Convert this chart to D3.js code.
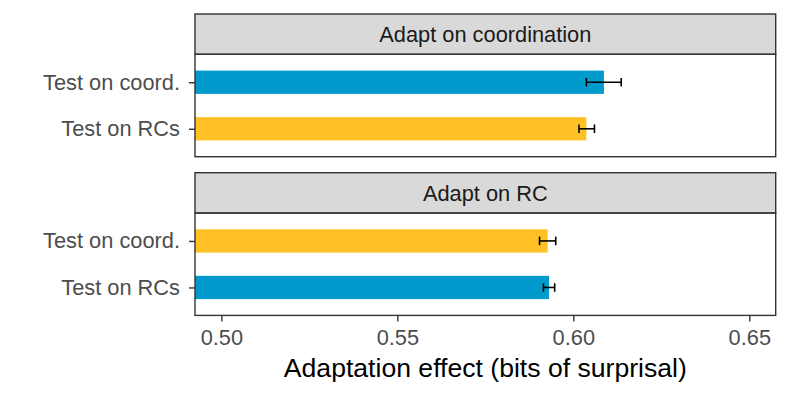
<!DOCTYPE html>
<html>
<head>
<meta charset="utf-8">
<script src="https://cdn.jsdelivr.net/npm/d3@7"></script>
<style>
  body { margin: 0; background: #fff; }
  svg { display: block; font-family: "Liberation Sans", Arial, sans-serif; }
</style>
</head>
<body>
<div id="chart"></div>
<script>
// Data (one row per bar)
const adaptOn = ["Adapt on coordination", "Adapt on coordination", "Adapt on RC", "Adapt on RC"];
const testOn = ["Test on coord.", "Test on RCs", "Test on coord.", "Test on RCs"];
const effect = [0.6087, 0.6037, 0.5927, 0.5931];
const ciLow = [0.6037, 0.6016, 0.5904, 0.5915];
const ciHigh = [0.6136, 0.6060, 0.5950, 0.5947];
const sameStructure = [true, false, false, true];

const facets = ["Adapt on coordination", "Adapt on RC"];
const testLevels = ["Test on coord.", "Test on RCs"];
const xTicks = [0.50, 0.55, 0.60, 0.65];
const xLimits = [0.50, 0.65];
const xTitle = "Adaptation effect (bits of surprisal)";

// Layout (pixels)
const width = 789, height = 395;
const panelLeft = 195, panelRight = 775.7;
const stripTops = [14, 172.7];      // top of each facet strip
const stripHeight = 40.3;
const panelHeight = 102.4;
const tickLen = 6;
const textSize = 21.8;

const BLUE = "#009ACD";     // deepskyblue3
const YELLOW = "#FFC125";   // goldenrod1
const BORDER = "#333333";

const rows = effect.map((v, i) => ({
    facet: adaptOn[i], test: testOn[i], value: v,
    lo: ciLow[i], hi: ciHigh[i], same: sameStructure[i]
}));

// ggplot-style 5% expansion on the x limits
const span = xLimits[1] - xLimits[0];
const x = d3.scaleLinear()
    .domain([xLimits[0] - span * 0.05, xLimits[1] + span * 0.05])
    .range([panelLeft, panelRight]);

const svg = d3.select("#chart").append("svg")
    .attr("width", width)
    .attr("height", height);

facets.forEach((facet, fi) => {
    const stripTop = stripTops[fi];
    const top = stripTop + stripHeight;
    const bottom = top + panelHeight;
    const g = svg.append("g").attr("class", "facet");

    // Strip
    g.append("rect")
        .attr("x", panelLeft)
        .attr("y", stripTop)
        .attr("width", panelRight - panelLeft)
        .attr("height", stripHeight)
        .attr("fill", "#D9D9D9")
        .attr("stroke", BORDER)
        .attr("stroke-width", 1.4);
    g.append("text")
        .attr("x", (panelLeft + panelRight) / 2)
        .attr("y", stripTop + stripHeight / 2)
        .attr("dy", "0.36em")
        .attr("text-anchor", "middle")
        .attr("font-size", textSize)
        .attr("fill", "#1A1A1A")
        .text(facet);

    // Discrete y scale with 0.6 expansion each side
    const y = d3.scalePoint()
        .domain(testLevels)
        .range([top, bottom])
        .padding(0.6);
    const barH = y.step() * 0.5;

    const data = rows.filter(d => d.facet === facet);

    g.selectAll(".bar")
        .data(data)
        .enter()
        .append("rect")
        .attr("class", "bar")
        .attr("x", panelLeft)
        .attr("y", d => y(d.test) - barH / 2)
        .attr("width", d => x(d.value) - panelLeft)
        .attr("height", barH)
        .attr("fill", d => d.same ? BLUE : YELLOW);

    // Error bars
    const capH = 4.3;
    const eb = g.selectAll(".errbar")
        .data(data)
        .enter()
        .append("g")
        .attr("class", "errbar")
        .attr("stroke", "#000")
        .attr("stroke-width", 1.6);
    eb.append("line")
        .attr("x1", d => x(d.lo)).attr("x2", d => x(d.hi))
        .attr("y1", d => y(d.test)).attr("y2", d => y(d.test));
    eb.append("line")
        .attr("x1", d => x(d.lo)).attr("x2", d => x(d.lo))
        .attr("y1", d => y(d.test) - capH).attr("y2", d => y(d.test) + capH);
    eb.append("line")
        .attr("x1", d => x(d.hi)).attr("x2", d => x(d.hi))
        .attr("y1", d => y(d.test) - capH).attr("y2", d => y(d.test) + capH);

    // Panel border
    g.append("rect")
        .attr("x", panelLeft)
        .attr("y", top)
        .attr("width", panelRight - panelLeft)
        .attr("height", panelHeight)
        .attr("fill", "none")
        .attr("stroke", BORDER)
        .attr("stroke-width", 1.4);

    // Y axis
    const yAxis = g.append("g")
        .attr("transform", `translate(${panelLeft},0)`)
        .call(d3.axisLeft(y).tickSize(tickLen).tickPadding(9));
    yAxis.select(".domain").remove();
    yAxis.selectAll(".tick line").attr("stroke", BORDER).attr("stroke-width", 1.4);
    yAxis.selectAll(".tick text")
        .attr("font-size", textSize)
        .attr("font-family", "Liberation Sans, Arial, sans-serif")
        .attr("fill", "#4D4D4D");

    // X axis on the last panel only
    if (fi === facets.length - 1) {
        const xAxis = g.append("g")
            .attr("transform", `translate(0,${bottom})`)
            .call(d3.axisBottom(x).tickValues(xTicks).tickFormat(d3.format(".2f"))
                .tickSize(tickLen).tickPadding(8));
        xAxis.select(".domain").remove();
        xAxis.selectAll(".tick line").attr("stroke", BORDER).attr("stroke-width", 1.4);
        xAxis.selectAll(".tick text")
            .attr("font-size", textSize)
            .attr("font-family", "Liberation Sans, Arial, sans-serif")
            .attr("fill", "#4D4D4D");
    }
});

// X axis title
svg.append("text")
    .attr("x", (panelLeft + panelRight) / 2)
    .attr("y", 377)
    .attr("text-anchor", "middle")
    .attr("font-size", 26.6)
    .attr("fill", "#000")
    .text(xTitle);
</script>
</body>
</html>
